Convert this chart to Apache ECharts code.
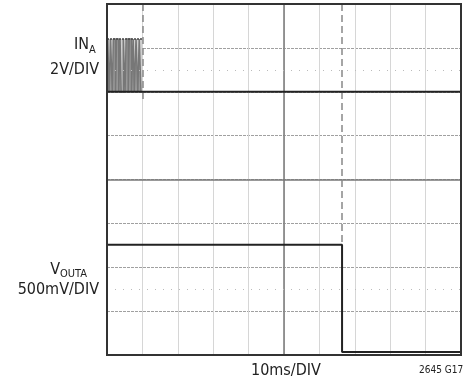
<!DOCTYPE html>
<html>
<head>
<meta charset="UTF-8">
<title>IN / VOUT scope trace</title>
<script src="https://cdn.jsdelivr.net/npm/echarts@6/dist/echarts.min.js"></script>
<style>
  body { margin: 0; background: #fff; }
</style>
</head>
<body>
<div id="main" style="width: 471px;height:385px;"></div>
<script type="text/javascript">
// time in ms, 10ms/DIV, 10 divisions
var xTicks = [0, 10, 20, 30, 40, 50, 60, 70, 80, 90, 100];
// screen divisions, 8 rows
var yTicks = [0, 1, 2, 3, 4, 5, 6, 7, 8];

// IN_A (volts) : burst of fast toggling in the first division
var burstTime = [0.2, 0.2, 0.6, 0.6, 1.0, 1.0, 1.5, 1.5, 1.8, 1.8, 2.4, 2.4, 2.7, 2.7, 3.3, 3.3,
                 3.7, 3.7, 4.0, 4.0, 4.6, 4.6, 5.1, 5.1, 5.4, 5.4, 6.0, 6.0, 6.3, 6.3, 6.9, 6.9,
                 7.4, 7.4, 7.7, 7.7, 8.2, 8.2, 8.7, 8.7, 9.1, 9.1, 9.6, 9.6];
var burstVolt = [0, 2.4, 2.4, 0, 0, 2.4, 2.4, 0, 0, 2.4, 2.4, 0, 0, 2.4, 2.4, 0,
                 0, 2.4, 2.4, 0, 0, 2.4, 2.4, 0, 0, 2.4, 2.4, 0, 0, 2.4, 2.4, 0,
                 0, 2.4, 2.4, 0, 0, 2.4, 2.4, 0, 0, 2.4, 2.4, 0];
var burstHigh = 2.4;
var burstSpan = [0, 10];
// ... then held low
var inTime = [0, 100];
var inVolt = [0, 0];

// VOUT_A (volts) : held until ~66ms then drops to zero
var outTime = [0, 66.4, 66.4, 100];
var outVolt = [1.22, 1.22, 0, 0];

// trace offsets on screen (div) and scale (V/div)
var inZero = 6, inScale = 2;
var outZero = 0.07, outScale = 0.5;

// cursor lines (ms) and where they stop (div)
var cursorTime = [10, 66.4];
var cursorEnd = [5.8, 2.5];

var myChart = echarts.init(document.getElementById('main'));

var burstData = burstTime.map(function (t, i) { return [t, inZero + burstVolt[i] / inScale]; });
var inData = inTime.map(function (t, i) { return [t, inZero + inVolt[i] / inScale]; });
var outData = outTime.map(function (t, i) { return [t, outZero + outVolt[i] / outScale]; });

var cursorLines = cursorTime.map(function (t, i) {
    return [{ coord: [t, 8], lineStyle: { color: '#888', width: 1.5, type: [7, 4] } },
            { coord: [t, cursorEnd[i]] }];
});

var font = '"Liberation Sans Narrow", "DejaVu Sans Condensed", sans-serif';

var option = {
    animation: false,
    grid: { left: 107, top: 4, right: 10, bottom: 30 },
    xAxis: {
        type: 'value', min: 0, max: 100, interval: 10,
        axisLine: { show: false }, axisTick: { show: false }, axisLabel: { show: false },
        splitLine: { show: true, lineStyle: { color: '#d6d6d6', width: 1 } }
    },
    yAxis: {
        type: 'value', min: 0, max: 8, interval: 1,
        axisLine: { show: false }, axisTick: { show: false }, axisLabel: { show: false },
        splitLine: { show: true, lineStyle: { color: '#a0a0a0', width: 1, type: [3, 1] } }
    },
    series: [
        {
            // grid helpers: centre cross, half-div dotted lines, cursors
            type: 'line', data: [], silent: true,
            markLine: {
                silent: true, symbol: 'none', label: { show: false },
                data: [
                    { xAxis: 50, lineStyle: { color: '#777', width: 1.5, type: 'solid' } },
                    { yAxis: 4, lineStyle: { color: '#777', width: 1.5, type: 'solid' } },
                    { yAxis: 6.5, lineStyle: { color: '#bbb', width: 1, type: [1, 7] } },
                    { yAxis: 1.5, lineStyle: { color: '#bbb', width: 1, type: [1, 7] } }
                ].concat(cursorLines)
            }
        },
        {
            name: 'IN burst', type: 'line', data: burstData, showSymbol: false, z: 4,
            lineStyle: { color: '#777', width: 1.5 },
            areaStyle: { color: '#999', opacity: 1, origin: inZero },
            markArea: {
                silent: true,
                itemStyle: { color: '#d0d0d0' },
                data: [[{ coord: [burstSpan[0], inZero] },
                        { coord: [burstSpan[1], inZero + burstHigh / inScale] }]]
            }
        },
        {
            name: 'IN high', type: 'line', showSymbol: false, z: 5,
            data: [[burstSpan[0], inZero + burstHigh / inScale], [burstSpan[1], inZero + burstHigh / inScale]],
            lineStyle: { color: '#444', width: 1.5, type: [2, 1] }
        },
        {
            name: 'IN', type: 'line', data: inData, showSymbol: false, z: 5,
            lineStyle: { color: '#222', width: 2 }
        },
        {
            name: 'VOUT', type: 'line', data: outData, showSymbol: false, z: 5,
            lineStyle: { color: '#222', width: 2 }
        }
    ],
    graphic: [
        { type: 'rect', z: 100, shape: { x: 107, y: 4, width: 354, height: 351 },
          style: { fill: 'none', stroke: '#333', lineWidth: 2 } },
        { type: 'text', right: 382, top: 37, style: { text: 'IN', font: '16px ' + font, fill: '#222' } },
        { type: 'text', left: 89, top: 45, style: { text: 'A', font: '11px ' + font, fill: '#222' } },
        { type: 'text', right: 372, top: 62, style: { text: '2V/DIV', font: '16px ' + font, fill: '#222' } },
        { type: 'text', right: 411, top: 262, style: { text: 'V', font: '16px ' + font, fill: '#222' } },
        { type: 'text', left: 60, top: 269, style: { text: 'OUTA', font: '11px ' + font, fill: '#222' } },
        { type: 'text', right: 372, top: 282, style: { text: '500mV/DIV', font: '16px ' + font, fill: '#222' } },
        { type: 'text', left: 251, top: 363, style: { text: '10ms/DIV', font: '16px ' + font, fill: '#222' } },
        { type: 'text', left: 419, top: 365, style: { text: '2645 G17', font: '10px ' + font, fill: '#222' } }
    ]
};

myChart.setOption(option);
</script>
</body>
</html>
